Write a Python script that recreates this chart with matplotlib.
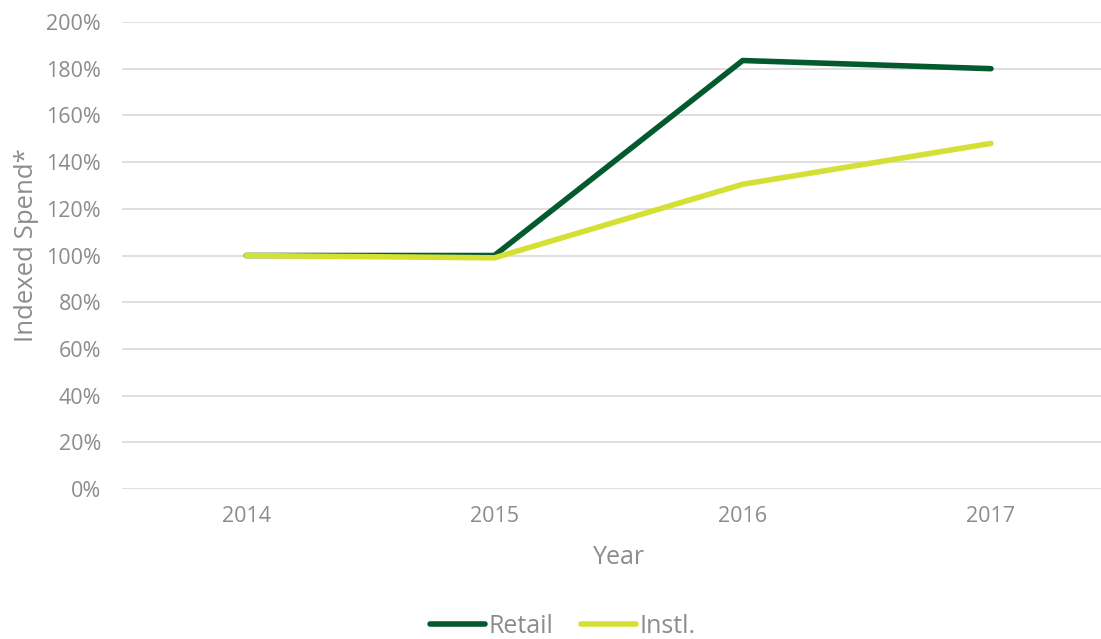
import matplotlib.pyplot as plt
from matplotlib.ticker import FuncFormatter

years = ["2014", "2015", "2016", "2017"]
retail = [100, 100, 183.5, 180]
instl = [100, 99, 130.5, 148]

plt.rcParams['font.family'] = ['Open Sans', 'DejaVu Sans']
grey = '#8c8c8c'

fig = plt.figure(figsize=(11.01, 6.39), dpi=100)
# plot area runs past the right edge, as in the original
ax = fig.add_axes([0.1108, 0.2347, 0.902, 0.7309])

x = range(len(years))
ax.plot(x, retail, color='#035a2e', lw=4, solid_capstyle='round', label='Retail', zorder=3)
ax.plot(x, instl, color='#d5e035', lw=4, solid_capstyle='round', label='Instl.', zorder=3)

ax.set_xlim(-0.5, 3.5)
ax.set_ylim(0, 200)
ax.set_yticks(range(0, 201, 20))
ax.yaxis.set_major_formatter(FuncFormatter(lambda v, p: f"{int(v)}%"))
ax.set_xticks(list(x))
ax.set_xticklabels(years)

ax.grid(axis='y', color='#d9d9d9', lw=1.2)
ax.set_axisbelow(True)
for s in ax.spines.values():
    s.set_visible(False)
ax.tick_params(length=0, colors=grey, labelsize=15.5)
ax.tick_params(axis='y', pad=15)
ax.tick_params(axis='x', pad=12)

ax.set_xlabel('Year', color=grey, fontsize=18, labelpad=13)
ax.set_ylabel('Indexed Spend*', color=grey, fontsize=18.5)
ax.yaxis.set_label_coords(-0.084, 0.522)

leg = fig.legend(loc='center', bbox_to_anchor=(0.511, 0.02), ncol=2, frameon=False,
                 fontsize=18, handlelength=2.2, handletextpad=0.15, columnspacing=1.1)
for t in leg.get_texts():
    t.set_color(grey)

fig.savefig('out.png', dpi=100)
